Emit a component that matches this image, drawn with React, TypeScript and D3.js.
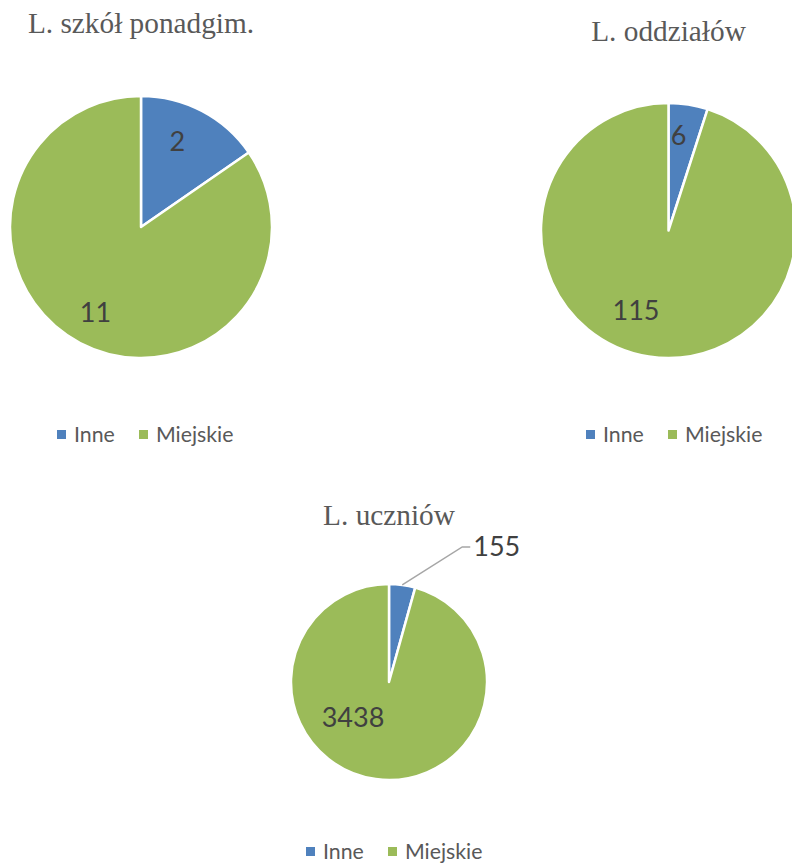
import React, { useEffect, useRef } from 'react';
import * as d3 from 'd3';

const categories = ['Inne', 'Miejskie'];
const chartTitles = ['L. szkół ponadgim.', 'L. oddziałów', 'L. uczniów'];
const schoolsValues = [2, 11];
const branchesValues = [6, 115];
const studentsValues = [155, 3438];

const colors = ['#4F81BD', '#9BBB59'];

// layout for each pie: center, radius, title baseline, legend row, label spots (angle deg, radius fraction)
const layouts = [
  { cx: 141, cy: 227, r: 131, titleY: 33, legendY: 435, legendCx: 146, spots: [[23, 0.71], [208, 0.74]], outside: false },
  { cx: 668.5, cy: 230.5, r: 127.5, titleY: 41, legendY: 435, legendCx: 675, spots: [[6, 0.75], [202, 0.68]], outside: false },
  { cx: 389, cy: 682, r: 98, titleY: 525, legendY: 852, legendCx: 395, spots: [[0, 0], [225, 0.52]], outside: true },
];

const App: React.FC = () => {
  const ref = useRef<SVGSVGElement>(null);

  useEffect(() => {
    if (!ref.current) return;
    const svg = d3.select(ref.current);
    svg.selectAll('*').remove();

    const datasets = [schoolsValues, branchesValues, studentsValues];

    datasets.forEach((values, ci) => {
      const L = layouts[ci];
      const g = svg.append('g');

      g.append('text')
        .attr('x', L.cx)
        .attr('y', L.titleY)
        .attr('text-anchor', 'middle')
        .attr('font-family', '"Liberation Serif", "Times New Roman", serif')
        .attr('font-size', 29.3)
        .attr('fill', '#595959')
        .text(chartTitles[ci]);

      const pie = d3.pie<number>().sort(null).value((d) => d);
      const arcs = pie(values);
      const arc = d3.arc<d3.PieArcDatum<number>>().innerRadius(0).outerRadius(L.r);

      const pg = g.append('g').attr('transform', `translate(${L.cx},${L.cy})`);
      pg.selectAll('path')
        .data(arcs)
        .enter()
        .append('path')
        .attr('d', arc)
        .attr('fill', (d, i) => colors[i])
        .attr('stroke', '#fff')
        .attr('stroke-width', 2.5)
        .attr('stroke-linejoin', 'round');

      arcs.forEach((a, i) => {
        const [ang, rf] = L.spots[i];
        if (L.outside && i === 0) {
          // leader line to outside label
          const mid = (a.startAngle + a.endAngle) / 2;
          const sx = Math.sin(mid) * L.r;
          const sy = -Math.cos(mid) * L.r;
          const ex = sx + 60;
          const ey = sy - 38;
          pg.append('polyline')
            .attr('points', `${sx},${sy} ${ex},${ey} ${ex + 8},${ey}`)
            .attr('fill', 'none')
            .attr('stroke', '#A6A6A6')
            .attr('stroke-width', 1.5);
          pg.append('text')
            .attr('x', ex + 11)
            .attr('y', ey)
            .attr('dy', '0.35em')
            .attr('font-family', 'Lato, "Open Sans", sans-serif')
            .attr('font-size', 27)
            .attr('fill', '#404040')
            .text(values[i]);
          return;
        }
        const rad = (ang * Math.PI) / 180;
        pg.append('text')
          .attr('x', Math.sin(rad) * L.r * rf)
          .attr('y', -Math.cos(rad) * L.r * rf)
          .attr('dy', '0.35em')
          .attr('text-anchor', 'middle')
          .attr('font-family', 'Lato, "Open Sans", sans-serif')
          .attr('font-size', 27)
          .attr('fill', '#404040')
          .text(values[i]);
      });

      // legend
      const lg = g.append('g').attr('transform', `translate(${L.legendCx - 89},${L.legendY})`);
      const offsets = [0, 82];
      categories.forEach((c, i) => {
        lg.append('rect')
          .attr('x', offsets[i])
          .attr('y', -5)
          .attr('width', 9)
          .attr('height', 9)
          .attr('fill', colors[i]);
        lg.append('text')
          .attr('x', offsets[i] + 17)
          .attr('y', 0)
          .attr('dy', '0.35em')
          .attr('font-family', 'Lato, "Open Sans", sans-serif')
          .attr('font-size', 21.3)
          .attr('fill', '#595959')
          .text(c);
      });
    });

    return () => {
      svg.selectAll('*').remove();
    };
  }, []);

  return (
    <svg
      ref={ref}
      width={792}
      height={863}
      style={{ position: 'absolute', left: 0, top: 0, background: '#fff' }}
    />
  );
};

export default App;
